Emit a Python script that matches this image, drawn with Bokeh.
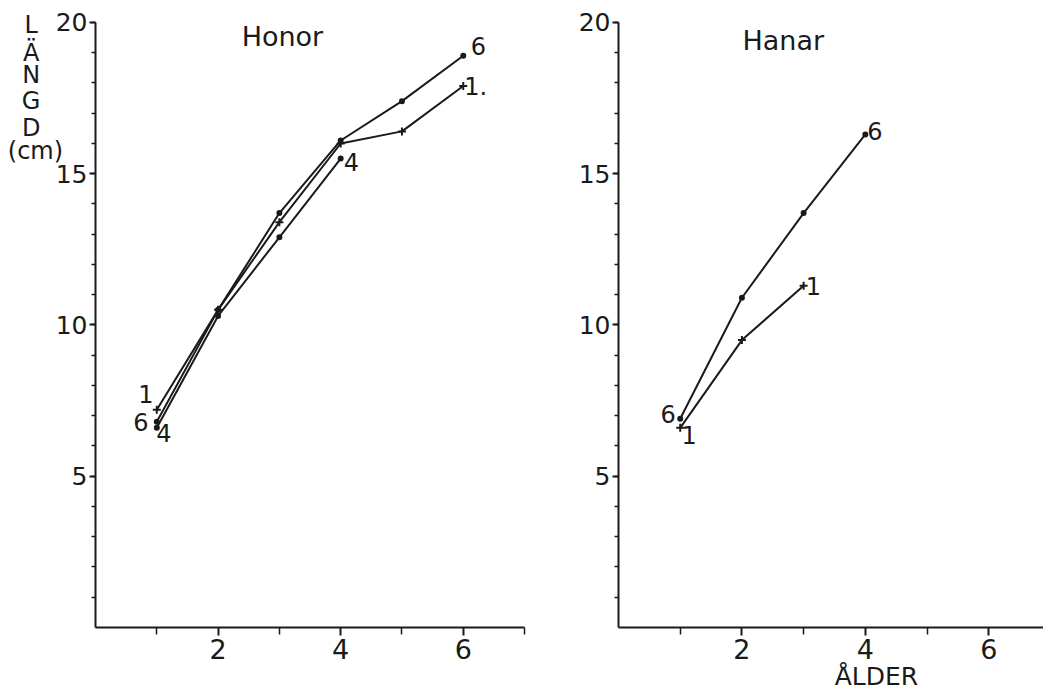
from bokeh.plotting import figure
from bokeh.layouts import row
from bokeh.models import FixedTicker, Label
from bokeh.core.properties import value
from bokeh.embed import file_html
from bokeh.resources import INLINE

# ---- data ----
ages_f = [1, 2, 3, 4, 5, 6]
honor_1 = [7.2, 10.5, 13.4, 16.0, 16.4, 17.9]
honor_6 = [6.8, 10.5, 13.7, 16.1, 17.4, 18.9]
ages_f4 = [1, 2, 3, 4]
honor_4 = [6.6, 10.3, 12.9, 15.5]

ages_m6 = [1, 2, 3, 4]
hanar_6 = [6.9, 10.9, 13.7, 16.3]
ages_m1 = [1, 2, 3]
hanar_1 = [6.6, 9.5, 11.3]

x_major = [2, 4, 6]
x_minor = [1, 3, 5, 7]
y_major = [5, 10, 15, 20]
y_minor = list(range(1, 21))

FONT = "DejaVu Sans"
INK = "#1a1a1a"


def make_panel(width, x_start, x_end):
    p = figure(x_range=(x_start, x_end), y_range=(-2.149, 20.727),
               frame_width=width, frame_height=692,
               min_border=0, output_backend="svg", toolbar_location=None, tools="")
    p.outline_line_color = None
    p.xgrid.grid_line_color = None
    p.ygrid.grid_line_color = None
    p.background_fill_color = "white"
    p.border_fill_color = "white"
    p.xaxis.ticker = FixedTicker(ticks=x_major, minor_ticks=x_minor)
    p.yaxis.ticker = FixedTicker(ticks=y_major, minor_ticks=y_minor)
    p.xaxis.fixed_location = 0
    p.yaxis.fixed_location = 0
    p.xaxis.bounds = (0, 7)
    p.yaxis.bounds = (0, 20)
    for ax in (p.xaxis, p.yaxis):
        ax.axis_line_width = 2
        ax.axis_line_color = INK
        ax.major_tick_line_color = INK
        ax.minor_tick_line_color = INK
        ax.major_tick_line_width = 2
        ax.minor_tick_line_width = 1.5
        ax.major_tick_in = 0
        ax.minor_tick_in = 0
        ax.major_label_text_font = FONT
        ax.major_label_text_color = INK
    p.xaxis.major_tick_out = 8
    p.xaxis.minor_tick_out = 7
    p.yaxis.major_tick_out = 6
    p.yaxis.minor_tick_out = 4
    p.xaxis.major_label_text_font_size = "27px"
    p.yaxis.major_label_text_font_size = "25px"
    p.xaxis.major_label_standoff = 4
    p.yaxis.major_label_standoff = 2
    return p


def series(p, xs, ys, marker, size):
    p.line(xs, ys, line_color=INK, line_width=2)
    p.scatter(xs, ys, marker=marker, size=size, line_color=INK, fill_color=INK, line_width=2)


def tag(p, txt, x, y, dx, dy, align="center", size="24px"):
    p.text(x=[x], y=[y], text=[txt], x_offset=dx, y_offset=dy, text_align=align,
           text_baseline="middle", text_font=value(FONT), text_font_size=size, text_color=INK)


def lab(p, txt, x, y, size="24px"):
    p.add_layout(Label(x=x, y=y, text=txt, text_align="center", text_baseline="middle",
                       text_font=FONT, text_font_size=size, text_color=INK))


# ---- Honor ----  (x=0 at 95 px, 61.29 px per year)
p1 = make_panel(530, -1.55, 7.097)
series(p1, ages_f, honor_1, "cross", 8)
series(p1, ages_f, honor_6, "circle", 4)
series(p1, ages_f4, honor_4, "circle", 4)
tag(p1, "6", ages_f[-1], honor_6[-1], 15, -10)
tag(p1, "1.", ages_f[-1], honor_1[-1], 1, 0, align="left")
tag(p1, "4", ages_f4[-1], honor_4[-1], 3, 3, align="left")
tag(p1, "1", ages_f[0], honor_1[0], -11, -16)
tag(p1, "6", ages_f[0], honor_6[0], -16, 0)
tag(p1, "4", ages_f4[0], honor_4[0], 7, 5)
lab(p1, "Honor", 3.05, 19.54, "27px")
for t, yy in [("L", 19.93), ("Ä", 19.0), ("N", 18.28), ("G", 17.39), ("D", 16.5)]:
    lab(p1, t, -1.05, yy, "24px")
lab(p1, "(cm)", -0.98, 15.74, "24px")

# ---- Hanar ----  (x=0 at 618 px, 61.71 px per year)
p2 = make_panel(513, -1.426, 6.887)
series(p2, ages_m6, hanar_6, "circle", 4)
series(p2, ages_m1, hanar_1, "cross", 8)
tag(p2, "6", ages_m6[-1], hanar_6[-1], 2, -3, align="left")
tag(p2, "1", ages_m1[-1], hanar_1[-1], 2, 0, align="left")
tag(p2, "6", ages_m6[0], hanar_6[0], -12, -5)
tag(p2, "1", ages_m1[0], hanar_1[0], 9, 7)
lab(p2, "Hanar", 2.67, 19.4, "27px")
lab(p2, "ÅLDER", 4.18, -1.62, "25px")

layout = row(p1, p2)
open("out.html", "w").write(file_html(layout, INLINE))
